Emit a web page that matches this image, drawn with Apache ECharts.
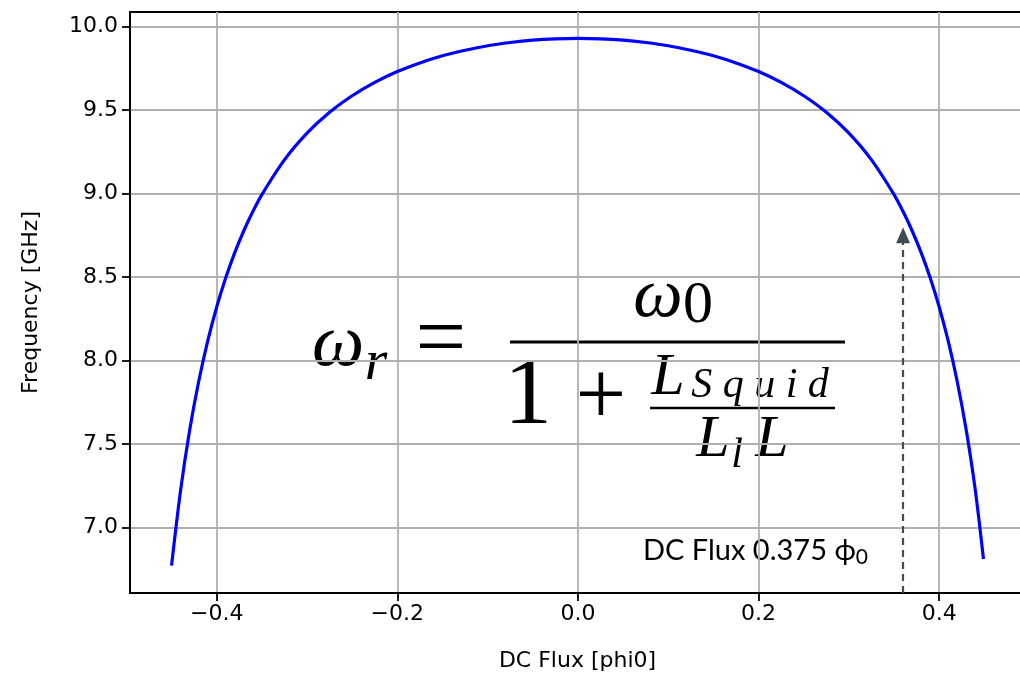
<!DOCTYPE html>
<html>
<head>
<meta charset="utf-8">
<script src="https://cdn.jsdelivr.net/npm/echarts@6/dist/echarts.min.js"></script>
<style>
  html, body { margin: 0; padding: 0; background: #fff; }
  #container { width: 1020px; height: 674px; }
</style>
</head>
<body>
<div id="container"></div>
<script>
// flux bias (phi0) and resonance frequency (GHz)
var fluxValues = [
  -0.45, -0.44, -0.43, -0.42, -0.41, -0.40, -0.39, -0.38, -0.37, -0.36, -0.35,
  -0.325, -0.30, -0.275, -0.25, -0.225, -0.20, -0.175, -0.15, -0.125, -0.10,
  -0.075, -0.05, -0.025, 0.0,
  0.025, 0.05, 0.075, 0.10, 0.125, 0.15, 0.175, 0.20, 0.225, 0.25, 0.275,
  0.30, 0.325, 0.35, 0.36, 0.37, 0.38, 0.39, 0.40, 0.41, 0.42, 0.43, 0.44, 0.449
];
var freqValues = [
  6.770, 7.221, 7.580, 7.872, 8.115, 8.320, 8.495, 8.646, 8.777, 8.892, 8.994,
  9.202, 9.362, 9.487, 9.586, 9.666, 9.731, 9.783, 9.826, 9.859, 9.886,
  9.905, 9.919, 9.927, 9.930,
  9.927, 9.919, 9.905, 9.886, 9.859, 9.826, 9.783, 9.731, 9.666, 9.586, 9.487,
  9.362, 9.202, 8.994, 8.892, 8.777, 8.646, 8.495, 8.320, 8.115, 7.872, 7.580, 7.221, 6.810
];
var xTicks = [-0.4, -0.2, 0.0, 0.2, 0.4];
var yTicks = [7.0, 7.5, 8.0, 8.5, 9.0, 9.5, 10.0];
var arrowFlux = 0.36;
var arrowFreq = [6.606, 8.75];

var dom = document.getElementById('container');
var myChart = echarts.init(dom, null, { renderer: 'canvas' });

var points = fluxValues.map(function (x, i) { return [x, freqValues[i]]; });

var tickFont = 'DejaVu Sans';
var mathFont = '"Liberation Serif", "DejaVu Serif", serif';
var noteFont = 'Lato, "DejaVu Sans", sans-serif';

function fmt(v) {
  var s = Math.abs(v).toFixed(1);
  return v < -1e-9 ? '\u2212' + s : s;
}

// one piece of the formula, centred on (x, y)
function mathText(x, y, text, size, italic) {
  return {
    type: 'text', x: x, y: y,
    style: {
      text: text,
      font: (italic ? 'italic ' : '') + size + 'px ' + mathFont,
      fill: '#000', align: 'center', verticalAlign: 'middle'
    }
  };
}

var option = {
  animation: false,
  backgroundColor: '#fff',
  grid: {
    left: 130,
    top: 12,
    width: 895,
    height: 581,
    outerBoundsMode: 'none',
    containLabel: false,
    show: true,
    borderColor: '#000',
    borderWidth: 1.8,
    backgroundColor: '#fff'
  },
  xAxis: {
    type: 'value',
    min: -0.496,
    max: 0.495,
    name: 'DC Flux [phi0]',
    nameLocation: 'middle',
    nameGap: 57,
    nameTextStyle: { fontFamily: tickFont, fontSize: 22, color: '#000' },
    axisLine: { show: true, onZero: false, lineStyle: { color: '#000', width: 1.8 } },
    axisTick: { show: true, inside: false, length: 8, customValues: xTicks, lineStyle: { color: '#000', width: 1.8 } },
    axisLabel: { customValues: xTicks, margin: 10, fontFamily: tickFont, fontSize: 22, color: '#000', formatter: fmt },
    splitLine: { show: true, lineStyle: { color: '#b0b0b0', width: 1.8 } }
  },
  yAxis: {
    type: 'value',
    min: 6.606,
    max: 10.088,
    name: 'Frequency [GHz]',
    nameLocation: 'middle',
    nameGap: 88,
    nameTextStyle: { fontFamily: tickFont, fontSize: 22, color: '#000' },
    axisLine: { show: true, onZero: false, lineStyle: { color: '#000', width: 1.8 } },
    axisTick: { show: true, inside: false, length: 8, customValues: yTicks, lineStyle: { color: '#000', width: 1.8 } },
    axisLabel: { customValues: yTicks, margin: 12, fontFamily: tickFont, fontSize: 22, color: '#000', formatter: fmt },
    splitLine: { show: true, lineStyle: { color: '#b0b0b0', width: 1.8 } }
  },
  series: [
    {
      name: 'freq',
      type: 'line',
      data: points,
      smooth: 0.3,
      showSymbol: false,
      lineStyle: { color: '#0000ff', width: 3.2 },
      markLine: {
        silent: true,
        symbol: ['none', 'triangle'],
        symbolSize: [14, 16],
        label: { show: false },
        lineStyle: { color: '#414b52', type: [7, 5], width: 2.2 },
        data: [
          [{ coord: [arrowFlux, arrowFreq[0]] }, { coord: [arrowFlux, arrowFreq[1]] }]
        ]
      }
    }
  ],
  graphic: [
    // annotation text
    {
      type: 'text', x: 643, y: 551,
      style: {
        text: 'DC Flux 0.375 \u03d5{s|0}',
        rich: { s: { fontFamily: noteFont, fontSize: 21, padding: [12, 0, 0, 0], fill: '#000' } },
        fontFamily: noteFont, fontSize: 29, fill: '#000', verticalAlign: 'middle'
      }
    },
    // formula: omega_r = omega_0 / (1 + L_Squid / (L_l L))
    mathText(338, 346, '\u03c9', 74, true),
    mathText(376, 364, 'r', 58, true),
    mathText(441, 343, '=', 90, false),
    { type: 'line', shape: { x1: 510, y1: 342, x2: 845, y2: 342 }, style: { stroke: '#000', lineWidth: 3 } },
    mathText(658, 298, '\u03c9', 70, true),
    mathText(698, 306, '0', 60, false),
    mathText(528, 398, '1', 96, false),
    mathText(601, 400, '+', 90, false),
    mathText(668, 378, 'L', 60, true),
    mathText(760, 386, 'S q u i d', 42, true),
    { type: 'line', shape: { x1: 650, y1: 408, x2: 835, y2: 408 }, style: { stroke: '#000', lineWidth: 2.5 } },
    mathText(713, 440, 'L', 60, true),
    mathText(737, 456, 'l', 42, true),
    mathText(772, 440, 'L', 60, true)
  ]
};

if (option && typeof option === 'object') {
  myChart.setOption(option);
}
</script>
</body>
</html>
